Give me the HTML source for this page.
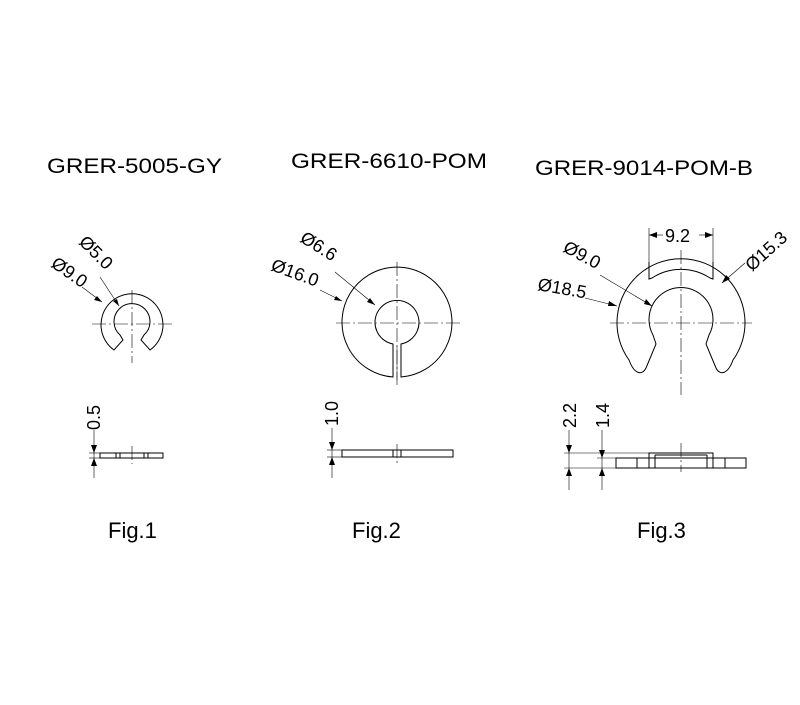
<!DOCTYPE html>
<html><head><style>html,body{margin:0;padding:0;background:#fff}</style></head><body>
<svg width="800" height="700" viewBox="0 0 800 700" xmlns="http://www.w3.org/2000/svg" font-family="Liberation Sans, Arial, sans-serif">
<rect width="800" height="700" fill="#fff"/>
<g font-size="21" fill="#000">
<text x="47" y="173" textLength="175" lengthAdjust="spacingAndGlyphs">GRER-5005-GY</text>
<text x="291" y="168" textLength="196" lengthAdjust="spacingAndGlyphs">GRER-6610-POM</text>
<text x="535" y="175" textLength="218" lengthAdjust="spacingAndGlyphs">GRER-9014-POM-B</text>
</g>
<g font-size="22" fill="#000">
<text x="108" y="538">Fig.1</text>
<text x="352" y="538">Fig.2</text>
<text x="637" y="538">Fig.3</text>
</g>
<g fill="none" stroke="#000" stroke-width="1">
<g stroke-width="0.6" stroke-dasharray="14,3,2,3">
<line x1="92" y1="324" x2="172" y2="324"/><line x1="132" y1="290" x2="132" y2="363"/>
<line x1="336" y1="323" x2="460" y2="323"/><line x1="397" y1="262" x2="397" y2="385"/>
<line x1="610" y1="323" x2="752" y2="323"/><line x1="681" y1="250" x2="681" y2="395"/>
<line x1="132" y1="446" x2="132" y2="464"/><line x1="397" y1="444" x2="397" y2="463"/><line x1="681" y1="443" x2="681" y2="472"/>
</g>
<path d="M114,350 A31,31 0 1 1 150,350 L141,340 L144,335 A18,18 0 1 0 120,335 L123,340 Z"/>
<rect x="100" y="453" width="63" height="5"/>
<line x1="116" y1="453" x2="116" y2="458"/><line x1="120" y1="453" x2="120" y2="458"/>
<line x1="144" y1="453" x2="144" y2="458"/><line x1="148" y1="453" x2="148" y2="458"/>
<path d="M393,377 A55,55 0 1 1 401,377 L401,344 A22,22 0 1 0 393,344 Z"/>
<line x1="397" y1="346" x2="397" y2="380" stroke-width="0.5"/>
<rect x="342" y="450" width="111" height="7"/>
<line x1="393" y1="450" x2="393" y2="457"/><line x1="401" y1="450" x2="401" y2="457"/>
<path d="M629,360 A64,64 0 1 1 733,360 C728,374 720,376 716,368 L706,344 L709,335 A32,32 0 1 0 653,335 L656,344 L646,368 C642,376 634,374 629,360 Z"/>
<path d="M649,262 L649,279 L652,278 A53,53 0 0 1 710,278 L713,279 L713,262"/>
<rect x="616" y="458" width="130" height="10"/>
<rect x="649" y="453" width="64" height="5"/>
<line x1="637" y1="458" x2="637" y2="468"/><line x1="725" y1="458" x2="725" y2="468"/>
<line x1="649" y1="458" x2="649" y2="468"/><line x1="655" y1="455" x2="655" y2="468"/>
<line x1="707" y1="455" x2="707" y2="468"/><line x1="713" y1="458" x2="713" y2="468"/>
<line x1="655" y1="455" x2="707" y2="455"/>
<g stroke-width="0.6">
<line x1="82" y1="287" x2="102" y2="302"/><line x1="100" y1="277" x2="119" y2="306"/>
<line x1="320" y1="290" x2="342" y2="301"/><line x1="335" y1="272" x2="375" y2="305"/>
<line x1="585" y1="298" x2="617" y2="306"/><line x1="600" y1="275" x2="652" y2="306"/>
<line x1="722" y1="283" x2="745" y2="263"/>
<line x1="649" y1="262" x2="649" y2="228"/><line x1="713" y1="262" x2="713" y2="228"/>
<line x1="649" y1="235" x2="663" y2="235"/><line x1="699" y1="235" x2="713" y2="235"/>
<line x1="94" y1="430" x2="94" y2="478"/><line x1="89" y1="453" x2="100" y2="453"/><line x1="89" y1="458" x2="100" y2="458"/>
<line x1="332" y1="428" x2="332" y2="478"/><line x1="327" y1="450" x2="342" y2="450"/><line x1="327" y1="457" x2="342" y2="457"/>
<line x1="569" y1="430" x2="569" y2="490"/><line x1="564" y1="453" x2="649" y2="453"/><line x1="564" y1="468" x2="616" y2="468"/>
<line x1="602" y1="430" x2="602" y2="490"/><line x1="597" y1="458" x2="616" y2="458"/>
</g>
</g>
<g fill="#000">
<polygon points="102,302 94,300 97,296"/>
<polygon points="119,306 113,301 117,299"/>
<polygon points="342,301 334,300 336,296"/>
<polygon points="375,305 367,302 370,298"/>
<polygon points="617,306 608,306 609,301"/>
<polygon points="652,306 644,304 646,299"/>
<polygon points="722,283 726,275 730,279"/>
<polygon points="649,235 657,232 657,238"/><polygon points="713,235 705,232 705,238"/>
<polygon points="94,453 91,445 97,445"/><polygon points="94,458 91,466 97,466"/>
<polygon points="332,450 329,442 335,442"/><polygon points="332,457 329,465 335,465"/>
<polygon points="569,453 566,445 572,445"/><polygon points="569,468 566,476 572,476"/>
<polygon points="602,458 599,450 605,450"/><polygon points="602,468 599,476 605,476"/>
</g>
<g font-size="18" fill="#000">
<text transform="translate(78,243) rotate(45)">Ø5.0</text>
<text transform="translate(50,266) rotate(35)">Ø9.0</text>
<text transform="translate(299,241) rotate(32)">Ø6.6</text>
<text transform="translate(270,270) rotate(20)">Ø16.0</text>
<text transform="translate(562,251) rotate(28)">Ø9.0</text>
<text transform="translate(537,290) rotate(10)">Ø18.5</text>
<text transform="translate(752,272) rotate(-42)">Ø15.3</text>
<text x="665" y="242">9.2</text>
<text transform="translate(100,430) rotate(-90)">0.5</text>
<text transform="translate(338,426) rotate(-90)">1.0</text>
<text transform="translate(576,428) rotate(-90)">2.2</text>
<text transform="translate(609,428) rotate(-90)">1.4</text>
</g>
</svg>
</body></html>
